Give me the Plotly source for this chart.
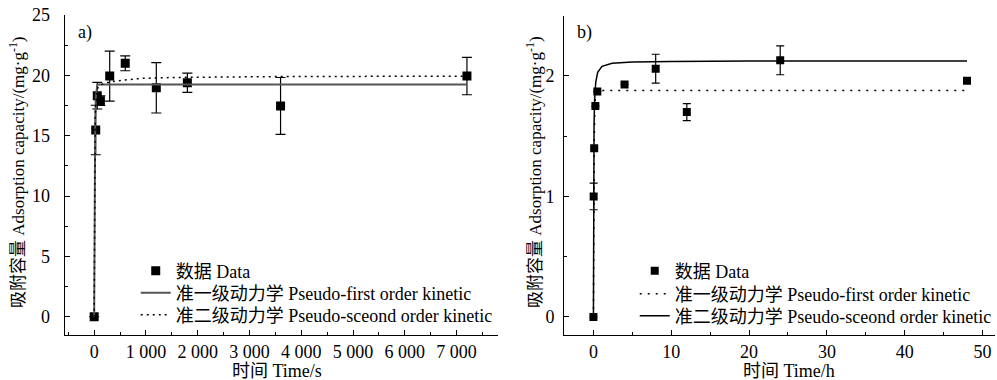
import plotly.graph_objects as go

# ---------------- data: panel a (time in s) ----------------
t_a = [0, 30, 60, 120, 300, 600, 1200, 1800, 3600, 7200]
q_a = [0, 15.47, 18.31, 17.9, 19.94, 21.0, 18.97, 19.39, 17.46, 19.94]
err_a = [None, 2.05, 1.1, 0.4, 2.07, 0.62, 2.09, 0.8, 2.36, 1.55]

# fitted curves, points
fit1_t_a = [0, 5, 10, 15, 20, 30, 45, 60, 90, 150, 7200]
fit1_q_a = [0, 7.0, 11.5, 14.3, 16.2, 18.1, 19.0, 19.2, 19.25, 19.25, 19.25]
fit2_t_a = [0, 5, 10, 20, 30, 45, 60, 77, 120, 205, 300, 462, 700, 913, 1500, 3600, 7200]
fit2_q_a = [0, 9.0, 13.5, 16.5, 17.6, 18.4, 18.8, 19.05, 19.2, 19.35, 19.45, 19.55, 19.68, 19.75, 19.82, 19.9, 19.93]

xtick_vals_a = [0, 1000, 2000, 3000, 4000, 5000, 6000, 7000]
xtick_text_a = ["0", "1 000", "2 000", "3 000", "4 000", "5 000", "6 000", "7 000"]

# ---------------- data: panel b (time in h) ----------------
t_b = [0, 0.03, 0.1, 0.25, 0.5, 4, 8, 12, 24, 48]
q_b = [0, 1.0, 1.40, 1.75, 1.87, 1.93, 2.06, 1.70, 2.13, 1.96]
err_b = [None, 0.11, None, None, None, None, 0.12, 0.07, 0.12, None]

fit1_t_b = [0, 0.02, 0.05, 0.1, 0.2, 0.3, 0.5, 48]
fit1_q_b = [0, 0.5, 1.0, 1.45, 1.78, 1.86, 1.88, 1.88]
fit2_t_b = [0, 0.01, 0.02, 0.04, 0.08, 0.15, 0.3, 0.55, 1.1, 2.4, 5, 10, 20, 48]
fit2_q_b = [0, 0.58, 0.91, 1.27, 1.59, 1.80, 1.95, 2.03, 2.08, 2.105, 2.115, 2.12, 2.125, 2.125]

# ---------------- labels ----------------
name_data = "数据 Data"
name_first = "准一级动力学 Pseudo-first order kinetic"
name_second = "准二级动力学 Pseudo-sceond order kinetic"
ytitle = "吸附容量 Adsorption capacity/(mg·g<sup>-1</sup>)"
xtitle_a = "时间 Time/s"
xtitle_b = "时间 Time/h"

FONT = "Liberation Serif, Noto Sans CJK SC, serif"
FS = 18
W, H = 997, 380

fig = go.Figure()

# panel a
fig.add_trace(go.Scatter(x=t_a, y=q_a, mode="markers", name=name_data,
                         marker=dict(symbol="square", size=9, color="black"),
                         error_y=dict(type="data", array=err_a, visible=True,
                                      color="black", thickness=1.2, width=5),
                         xaxis="x", yaxis="y", legend="legend"))
fig.add_trace(go.Scatter(x=fit1_t_a, y=fit1_q_a, mode="lines", name=name_first,
                         line=dict(color="#555555", width=2),
                         xaxis="x", yaxis="y", legend="legend2"))
fig.add_trace(go.Scatter(x=fit2_t_a, y=fit2_q_a, mode="lines", name=name_second,
                         line=dict(color="black", width=1.5, dash="2px,4px"),
                         xaxis="x", yaxis="y", legend="legend3"))

# panel b
fig.add_trace(go.Scatter(x=t_b, y=q_b, mode="markers", name=name_data,
                         marker=dict(symbol="square", size=8, color="black"),
                         error_y=dict(type="data", array=err_b, visible=True,
                                      color="black", thickness=1.2, width=4),
                         xaxis="x2", yaxis="y2", legend="legend4"))
fig.add_trace(go.Scatter(x=fit1_t_b, y=fit1_q_b, mode="lines", name=name_first,
                         line=dict(color="black", width=1.5, dash="2px,6px"),
                         xaxis="x2", yaxis="y2", legend="legend5"))
fig.add_trace(go.Scatter(x=fit2_t_b, y=fit2_q_b, mode="lines", name=name_second,
                         line=dict(color="black", width=1.5),
                         xaxis="x2", yaxis="y2", legend="legend6"))

def px_x(p):
    return p / W

def px_y(p):
    return 1 - p / H

axis_common = dict(showline=True, linecolor="black", linewidth=1.3,
                   ticks="inside", ticklen=5, tickcolor="black", tickwidth=1.2,
                   showgrid=False, zeroline=False, mirror=False, automargin=False,
                   tickfont=dict(family=FONT, size=FS, color="black"))

def ann(text, x, y, angle=0, size=FS):
    return dict(text=text, x=px_x(x), y=px_y(y), xref="paper", yref="paper",
                xanchor="center", yanchor="middle", textangle=angle,
                showarrow=False, font=dict(family=FONT, size=size, color="black"))

def leg(x, y):
    return dict(x=px_x(x), y=px_y(y), xanchor="left", yanchor="middle",
                bgcolor="rgba(0,0,0,0)", itemwidth=30, tracegroupgap=0,
                borderwidth=0, font=dict(family=FONT, size=FS, color="black"))

fig.update_layout(
    template="none",
    width=W, height=H,
    margin=dict(l=0, r=0, t=0, b=0, pad=0),
    paper_bgcolor="white", plot_bgcolor="white",
    font=dict(family=FONT, size=FS, color="black"),
    showlegend=True,
    xaxis=dict(domain=[px_x(65), px_x(498.5)], range=[-566, 7790], anchor="y",
               tickvals=xtick_vals_a, ticktext=xtick_text_a, ticklabelstandoff=0,
               minor=dict(dtick=500, ticks="inside", ticklen=3, tickcolor="black"),
               **axis_common),
    yaxis=dict(domain=[px_y(335), px_y(15)], range=[-1.52, 25], anchor="x",
               dtick=5, tick0=0, ticklabelstandoff=10,
               minor=dict(dtick=2.5, ticks="inside", ticklen=3, tickcolor="black"),
               **axis_common),
    xaxis2=dict(domain=[px_x(565.3), 1.0], range=[-3.76, 51.6], anchor="y2",
                dtick=10, tick0=0, ticklabelstandoff=0,
                minor=dict(dtick=5, ticks="inside", ticklen=3, tickcolor="black"),
                **axis_common),
    yaxis2=dict(domain=[px_y(335.3), px_y(15.7)], range=[-0.152, 2.5], anchor="x2",
                dtick=1, tick0=0, ticklabelstandoff=5,
                minor=dict(dtick=0.5, ticks="inside", ticklen=3, tickcolor="black"),
                **axis_common),
    legend=leg(136, 271),
    legend2=leg(136, 293),
    legend3=leg(136, 315),
    legend4=leg(636, 271),
    legend5=leg(636, 294),
    legend6=leg(636, 316),
    annotations=[
        ann(ytitle, 17, 172, -90, 17),
        ann(ytitle, 535, 172, -90, 17),
        ann(xtitle_a, 278, 371),
        ann(xtitle_b, 791, 371),
        ann("a)", 85, 32),
        ann("b)", 586, 32),
    ],
)

fig.write_html("out.html",
               config={"displayModeBar": False},
               post_script="document.body.style.margin='0';document.body.style.padding='0';"
                           "document.documentElement.style.overflow='hidden';")
